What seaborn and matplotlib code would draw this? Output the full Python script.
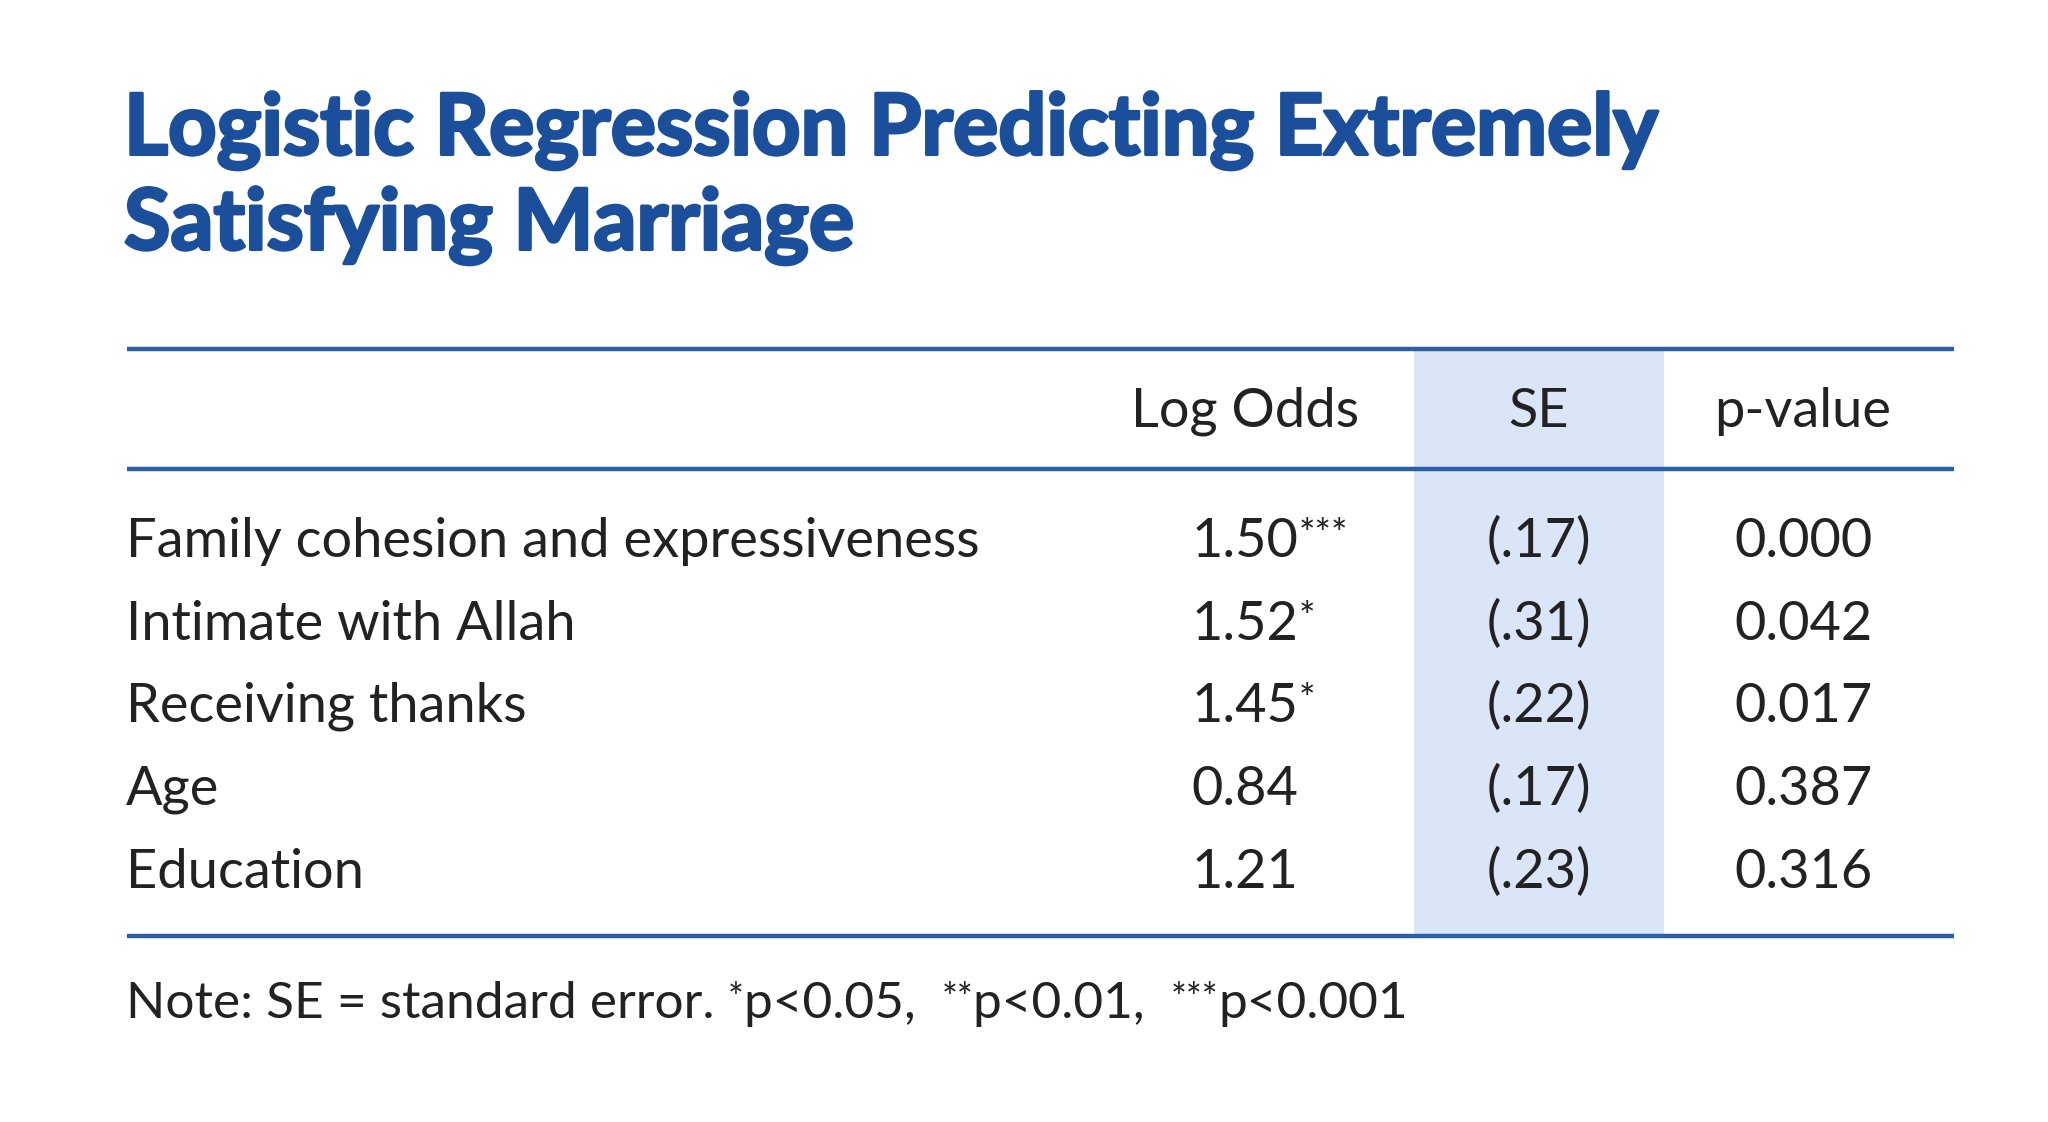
import matplotlib
matplotlib.use("Agg")
import matplotlib.pyplot as plt
import matplotlib.patheffects as pe
import seaborn as sns

# table content
title_lines = ["Logistic Regression Predicting Extremely", "Satisfying Marriage"]
col_headers = ["Log Odds", "SE", "p-value"]
predictors = ["Family cohesion and expressiveness", "Intimate with Allah",
              "Receiving thanks", "Age", "Education"]
log_odds = ["1.50", "1.52", "1.45", "0.84", "1.21"]
stars = ["***", "*", "*", "", ""]
se = ["(.17)", "(.31)", "(.22)", "(.17)", "(.23)"]
p_values = ["0.000", "0.042", "0.017", "0.387", "0.316"]
note_parts = [("Note: SE = standard error. ", False), ("*", True), ("p<0.05,  ", False),
              ("**", True), ("p<0.01,  ", False), ("***", True), ("p<0.001", False)]

sns.set_theme(style="white")
plt.rcParams['font.family'] = ['Lato', 'DejaVu Sans']

BLUE = "#1b4f9b"
LINE = "#2b5fa6"
BAND = "#dae5f7"
INK = "#222222"
FS = 39
FS_NOTE = 37

fig = plt.figure(figsize=(20.48, 11.22), dpi=100)
fig.patch.set_facecolor("white")
ax = fig.add_axes([0, 0, 1, 1])
ax.set_xlim(0, 2048)
ax.set_ylim(1122, 0)
ax.axis("off")

# title (slight stroke to get a heavier weight)
for line, y in zip(title_lines, [131, 226]):
    ax.text(124, y, line, fontsize=61, fontweight="bold",
            color=BLUE, va="center", ha="left",
            path_effects=[pe.withStroke(linewidth=2.2, foreground=BLUE)])

# table frame
x0, x1 = 127, 1954
y_top, y_head, y_bot = 349, 469, 936
ax.fill_between([1414, 1664], y_top, y_bot, color=BAND, lw=0, zorder=0)
for y in (y_top, y_head, y_bot):
    ax.plot([x0, x1], [y, y], color=LINE, lw=3.2, solid_capstyle="butt")

col_x = [1245, 1539, 1803]
for cx, h in zip(col_x, col_headers):
    ax.text(cx, 411, h, fontsize=FS, color=INK, ha="center", va="center")

row_y = [541, 624, 706, 789, 872]
for i, y in enumerate(row_y):
    ax.text(126, y, predictors[i], fontsize=FS, color=INK, ha="left", va="center")
    t = ax.text(col_x[0], y, log_odds[i], fontsize=FS, color=INK,
                ha="center", va="center")
    if stars[i]:
        ax.annotate(stars[i], xy=(1.0, 0.97), xycoords=t, fontsize=28,
                    color=INK, ha="left", va="top")
    ax.text(col_x[1], y, se[i], fontsize=FS, color=INK, ha="center", va="center")
    ax.text(col_x[2], y, p_values[i], fontsize=FS, color=INK, ha="center", va="center")

# note line with raised stars
base = ax.text(126, 1004, note_parts[0][0], fontsize=FS_NOTE, color=INK,
               ha="left", va="center")
prev = base
for txt, sup in note_parts[1:]:
    if sup:
        prev = ax.annotate(txt, xy=(1.0, 0.97), xycoords=(prev, base), fontsize=27,
                           color=INK, ha="left", va="top")
    else:
        prev = ax.annotate(txt, xy=(1.0, 0.0), xycoords=(prev, base),
                           fontsize=FS_NOTE, color=INK, ha="left", va="bottom")

fig.savefig("out.png", dpi=100, facecolor="white")
